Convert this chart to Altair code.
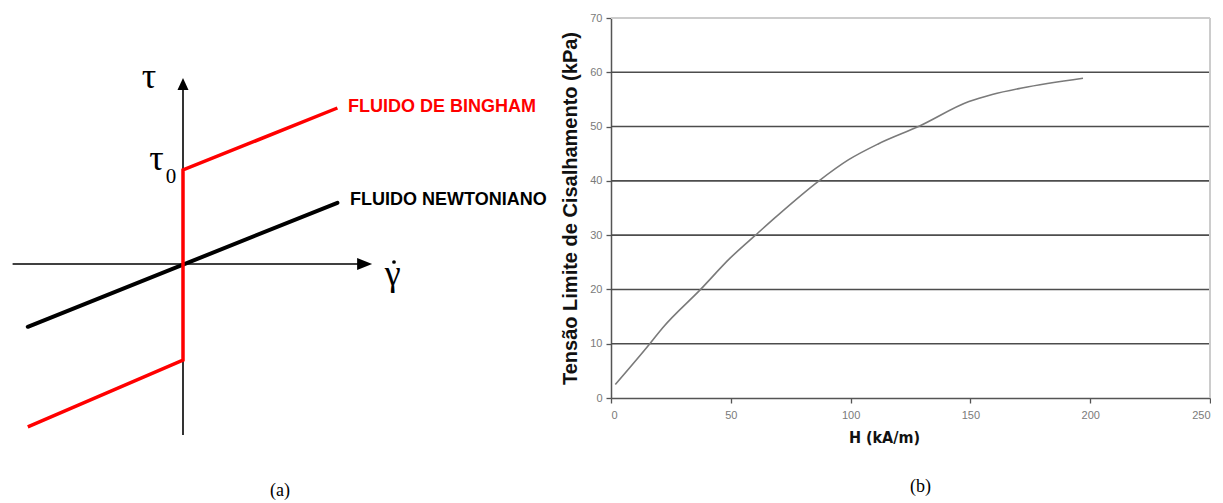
import altair as alt
import pandas as pd

# ---------------- (a) schematic: shear stress vs shear rate ----------------
# coordinate axes of the sketch (start / end points)
axis_g  = [-4.26, 0.0]
axis_t  = [0.0, -4.275]
axis_g2 = [4.40, 0.0]
axis_t2 = [0.0, 4.40]

# arrow heads at the axis tips
head_g = [4.54, 0.0]
head_t = [0.0, 4.50]
head_shape = ["M1,0L-1,0.8L-1,-0.8Z", "M0,-1L0.9,1L-0.9,1Z"]
head_size = [225, 150]

# Newtonian fluid: straight line through the origin
newton_g = [-3.88, 3.86]
newton_t = [-1.57, 1.53]

# Bingham fluid: yield stress jump at zero shear rate
bingham_g = [-3.88, 0.0, 0.0, 3.86]
bingham_t = [-4.07, -2.40, 2.35, 3.90]

labels = ["FLUIDO DE BINGHAM", "FLUIDO NEWTONIANO"]
labels_g = [4.125, 4.175]
labels_t = [3.93, 1.60]
labels_color = ["#ff0000", "#000000"]

symbols = ["τ", "τ", "γ"]
symbols_g = [-0.85, -0.66, 5.24]
symbols_t = [4.40, 2.35, -0.525]

# ---------------- (b) yield stress vs magnetic field ----------------
H_kAm = [1.8, 16.2, 21.5, 37.4, 49.8, 60.3, 69.2, 86.8, 99.2, 111.5,
         128.8, 149.4, 159.1, 171.5, 197.0]
tau_kPa = [2.5, 10.0, 12.9, 20.0, 25.8, 30.0, 33.5, 40.0, 43.9, 46.8,
           50.1, 54.6, 55.9, 57.1, 58.9]
y_ticks = [0, 10, 20, 30, 40, 50, 60, 70]
x_ticks = [0, 50, 100, 150, 200, 250]
grid_levels = [10, 20, 30, 40, 50, 60]

SERIF = "Liberation Serif"
SANS = "Liberation Sans"
NARROW = "'Liberation Sans Narrow', 'DejaVu Sans Condensed', 'Liberation Sans'"

# ---------- panel (a) ----------
sx = alt.Scale(domain=[-4.575, 9.425], nice=False, zero=False)
sy = alt.Scale(domain=[-5.35, 6.15], nice=False, zero=False)

axes_df = pd.DataFrame({"g": axis_g, "t": axis_t, "g2": axis_g2, "t2": axis_t2})
axes_a = alt.Chart(axes_df).mark_rule(color="black", strokeWidth=1.6).encode(
    x=alt.X("g:Q", scale=sx, axis=None),
    y=alt.Y("t:Q", scale=sy, axis=None),
    x2="g2:Q",
    y2="t2:Q",
)

heads_df = pd.DataFrame({"g": head_g, "t": head_t, "shape": head_shape, "size": head_size})
heads = alt.Chart(heads_df).mark_point(filled=True, color="black", opacity=1).encode(
    x=alt.X("g:Q", scale=sx, axis=None),
    y=alt.Y("t:Q", scale=sy, axis=None),
    shape=alt.Shape("shape:N", scale=None),
    size=alt.Size("size:Q", scale=None),
)

newton_df = pd.DataFrame({"g": newton_g, "t": newton_t})
newton = alt.Chart(newton_df).mark_line(color="black", strokeWidth=4, strokeCap="round").encode(
    x=alt.X("g:Q", scale=sx, axis=None),
    y=alt.Y("t:Q", scale=sy, axis=None),
)

bingham_df = pd.DataFrame({"g": bingham_g, "t": bingham_t, "i": list(range(len(bingham_g)))})
bingham = alt.Chart(bingham_df).mark_line(color="#ff0000", strokeWidth=3.5).encode(
    x=alt.X("g:Q", scale=sx, axis=None),
    y=alt.Y("t:Q", scale=sy, axis=None),
    order="i:Q",
)

labels_df = pd.DataFrame({"txt": labels, "g": labels_g, "t": labels_t, "c": labels_color})
label_marks = alt.Chart(labels_df).mark_text(
    align="left", baseline="middle", font=SANS, fontSize=18, fontWeight="bold"
).encode(
    x=alt.X("g:Q", scale=sx, axis=None),
    y=alt.Y("t:Q", scale=sy, axis=None),
    text="txt:N",
    color=alt.Color("c:N", scale=None),
)

sym_df = pd.DataFrame({"txt": symbols, "g": symbols_g, "t": symbols_t})
sym_marks = alt.Chart(sym_df).mark_text(
    align="center", baseline="alphabetic", font=SERIF, fontSize=36, color="black"
).encode(
    x=alt.X("g:Q", scale=sx, axis=None),
    y=alt.Y("t:Q", scale=sy, axis=None),
    text="txt:N",
)

sub_df = pd.DataFrame({"txt": ["0"], "g": [-0.30], "t": [2.025]})
sub_mark = alt.Chart(sub_df).mark_text(
    align="center", baseline="alphabetic", font=SERIF, fontSize=21, color="black"
).encode(
    x=alt.X("g:Q", scale=sx, axis=None),
    y=alt.Y("t:Q", scale=sy, axis=None),
    text="txt:N",
)

dot_df = pd.DataFrame({"g": [5.275], "t": [0.05]})
dot_mark = alt.Chart(dot_df).mark_circle(color="black", size=14, opacity=1).encode(
    x=alt.X("g:Q", scale=sx, axis=None),
    y=alt.Y("t:Q", scale=sy, axis=None),
)

panel_a = alt.layer(
    axes_a, heads, newton, bingham, label_marks, sym_marks, sub_mark, dot_mark
).properties(
    width=560,
    height=460,
    title=alt.TitleParams(
        "(a)", orient="bottom", anchor="middle", frame="group",
        font=SERIF, fontSize=18, fontWeight="normal", color="black", offset=4,
    ),
)

# ---------- panel (b) ----------
xs = alt.Scale(domain=[0, 250], nice=False, zero=False)
ys = alt.Scale(domain=[0, 70], nice=False, zero=False)

grid_df = pd.DataFrame({"v": grid_levels})
grid = alt.Chart(grid_df).mark_rule(color="#4d4d4d", strokeWidth=1.6).encode(
    y=alt.Y("v:Q", scale=ys),
    x=alt.datum(0, scale=xs),
    x2=alt.datum(250),
)

frame_right = alt.Chart(grid_df).mark_rule(color="#cccccc", strokeWidth=2).encode(
    x=alt.datum(250, scale=xs),
    y=alt.datum(0, scale=ys),
    y2=alt.datum(70),
)
frame_top = alt.Chart(grid_df).mark_rule(color="#cccccc", strokeWidth=2).encode(
    y=alt.datum(70, scale=ys),
    x=alt.datum(0, scale=xs),
    x2=alt.datum(250),
)

curve_df = pd.DataFrame({"H": H_kAm, "tau": tau_kPa})
curve = alt.Chart(curve_df).mark_line(
    color="#7a7a7a", strokeWidth=1.6, interpolate="monotone"
).encode(
    x=alt.X(
        "H:Q", scale=xs,
        axis=alt.Axis(
            values=x_ticks, title="H (kA/m)", grid=False,
            domainColor="#555555", domainWidth=1.5, tickColor="#555555", tickWidth=1.3,
            tickSize=5, labelFont=SANS, labelFontSize=11, labelColor="#7a7a7a",
            labelPadding=6, titleFont=NARROW, titleFontSize=16,
            titleFontWeight="bold", titleColor="#111111", titleX=273, titleY=39,
            titleBaseline="middle", titleAnchor="start", titleAlign="center",
        ),
    ),
    y=alt.Y(
        "tau:Q", scale=ys,
        axis=alt.Axis(
            values=y_ticks, title="Tensão Limite de Cisalhamento  (kPa)", grid=False,
            domainColor="#555555", domainWidth=1.5, tickColor="#555555", tickWidth=1.3,
            tickSize=5, labelFont=SANS, labelFontSize=11, labelColor="#7a7a7a",
            labelPadding=4, titleFont=SANS, titleFontSize=20, titleFontWeight="bold",
            titleColor="#111111", titleX=-41, titleBaseline="middle",
        ),
    ),
)

panel_b = alt.layer(grid, frame_right, frame_top, curve).properties(
    width=599,
    height=380,
    title=alt.TitleParams(
        "(b)", orient="bottom", anchor="middle", frame="group", dx=10,
        font=SERIF, fontSize=18, fontWeight="normal", color="black", offset=33,
    ),
)

chart = alt.hconcat(panel_a, panel_b, spacing=0).properties(
    padding={"left": 0, "top": 12, "right": 0, "bottom": 0},
    background="white",
).configure_view(stroke=None)

chart.save("out.html", embed_options={"renderer": "svg", "actions": False})
